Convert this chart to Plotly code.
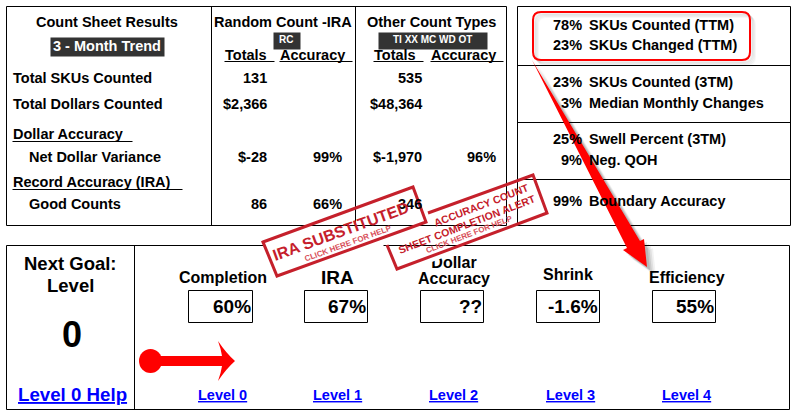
"""Count sheet results panel redrawn with Plotly shapes and annotations"""
import plotly.graph_objects as go

FONT = "Liberation Sans"
BLACK = "#000000"
RED = "#ff0000"
STAMP = "#c5202b"
STAMP_SOFT = "#d8505a"
LINK = "#0000ff"

# values
row_labels = ["Total SKUs Counted", "Total Dollars Counted", "Net Dollar Variance", "Good Counts"]
section_labels = ["Dollar Accuracy", "Record Accuracy (IRA)"]
random_totals = ["131", "$2,366", "$-28", "86"]
random_accuracy = ["", "", "99%", "66%"]
other_totals = ["535", "$48,364", "$-1,970", "346"]
other_accuracy = ["", "", "96%", ""]
side_values = ["78%", "23%", "23%", "3%", "25%", "9%", "99%"]
side_labels = ["SKUs Counted (TTM)", "SKUs Changed (TTM)", "SKUs Counted (3TM)",
               "Median Monthly Changes", "Swell Percent (3TM)", "Neg. QOH", "Boundary Accuracy"]
goal_names = ["Completion", "IRA", "Dollar<br>Accuracy", "Shrink", "Efficiency"]
goal_values = ["60%", "67%", "??", "-1.6%", "55%"]
level_links = ["Level 0", "Level 1", "Level 2", "Level 3", "Level 4"]

annotations = []
shapes = []


def text(x, y, s, size=14.5, color=BLACK, bold=True, anchor="center", angle=0):
    if bold:
        s = f"<b>{s}</b>"
    annotations.append(dict(x=x, y=y, text=s, showarrow=False, xanchor=anchor, yanchor="middle",
                            textangle=angle, borderpad=0, align="center",
                            font=dict(family=FONT, size=size, color=color)))


def line(x0, y0, x1, y1, color=BLACK, width=1):
    # half pixel offset keeps the rules crisp
    shapes.append(dict(type="line", x0=x0 + .5, y0=y0 + .5, x1=x1 + .5, y1=y1 + .5,
                       line=dict(color=color, width=width)))


def box(x0, y0, x1, y1, fill="rgba(0,0,0,0)", color=BLACK, width=1):
    shapes.append(dict(type="rect", x0=x0 + .5, y0=y0 + .5, x1=x1 + .5, y1=y1 + .5, fillcolor=fill,
                       line=dict(color=color, width=width)))


def poly(path, fill="rgba(0,0,0,0)", color="rgba(0,0,0,0)", width=0):
    shapes.append(dict(type="path", path=path, fillcolor=fill, line=dict(color=color, width=width)))


# white backing of the stamp, has to sit under the frame lines
poly("M387,245 L533,175 L547,219 L397,275 Z", fill="white")

# frames
box(6, 6, 506, 225)
line(211, 6, 211, 225)
line(355, 6, 355, 225)
box(517, 6, 790, 225)
for y in [65, 122, 179]:
    line(517, y, 790, y)
line(6, 245, 263, 245)
line(383, 245, 789, 245)
line(6, 245, 6, 409)
line(789, 245, 789, 409)
line(6, 409, 789, 409)
line(134, 245, 134, 409)

# left table
text(107, 22, "Count Sheet Results")
box(50, 37, 164, 56, fill="#333333", color="#333333", width=0)
text(107, 46, "3 - Month Trend", color="white")
text(283, 22, "Random Count -IRA")
text(431, 22, "Other Count Types")
box(273, 32, 300, 49, fill="#333333", color="#333333", width=0)
text(286, 39, "RC", 10, color="white")
box(378, 32, 487, 49, fill="#333333", color="#333333", width=0)
text(432, 39, "TI XX MC WD OT", 10, color="white")
for x, name in [(246, "Totals"), (312, "Accuracy"), (395, "Totals"), (463, "Accuracy")]:
    text(x, 55, name)
for x0, x1 in [(224, 274), (279, 352), (373, 423), (430, 503)]:
    line(x0, 61, x1, 61)

row_y = [78, 104, 157, 204]
row_x = [12, 12, 28, 28]
for x, y, s in zip(row_x, row_y, row_labels):
    text(x, y, s, anchor="left")
for y, s, x1 in zip([134, 182], section_labels, [132, 182]):
    text(12, y, s, anchor="left")
    line(12, y + 7, x1, y + 7)
for col, x in [(random_totals, 268), (random_accuracy, 343), (other_totals, 423), (other_accuracy, 497)]:
    for y, s in zip(row_y, col):
        if s:
            text(x, y, s, anchor="right")

# right side panel
side_y = [25, 45, 82, 103, 139, 160, 201]
for y, v, s in zip(side_y, side_values, side_labels):
    text(583, y, v, anchor="right")
    text(588, y, s, anchor="left")
round_box = "M{0},{2} L{1},{2} Q{4},{2} {4},{5} L{4},{6} Q{4},{3} {1},{3} L{0},{3} Q{7},{3} {7},{6} L{7},{5} Q{7},{2} {0},{2} Z"
for off, alpha in [(5, 0.03), (4, 0.04), (3, 0.05), (2, 0.06)]:
    poly(round_box.format(541 + off, 742 + off, 12 + off, 60 + off, 750 + off, 20 + off, 52 + off, 533 + off),
         color=f"rgba(0,0,0,{alpha})", width=2)
poly(round_box.format(541, 742, 12, 60, 750, 20, 52, 533), color=RED, width=2)

# big arrow with its soft shadow
for off, alpha in [(9, 0.05), (7, 0.07), (5, 0.09), (3, 0.1)]:
    poly(f"M{532+off},{60+off} L{640+off},{241+off} L{644+off},{239+off} L{647+off},{267+off} "
         f"L{623+off},{250+off} L{627+off},{248+off} Z", fill=f"rgba(0,0,0,{alpha})")
poly("M532,60 L640,241 L644,239 L647,267 L623,250 L627,248 Z", fill=RED)

# goal panel
text(70, 263, "Next Goal:", 18.5)
text(70, 285, "Level", 18.5)
text(72, 334, "0", 36)
text(72, 394, "<u>Level 0 Help</u>", 18.7, color=LINK)

name_x = [223, 337, 454, 568, 687]
name_y = [277, 277, 0, 274, 277]
value_box = [(188, 252), (304, 367), (420, 483), (536, 599), (652, 715)]
link_x = [222, 337, 453, 570, 686]
for i in range(5):
    x0, x1 = value_box[i]
    box(x0, 290, x1, 322)
    text(x1, 306, goal_values[i], 19, anchor="right")
    text(link_x[i], 395, f"<u>{level_links[i]}</u>", color=LINK)
    if i == 2:
        continue
    text(name_x[i], name_y[i], goal_names[i], 19 if i == 1 else 16)

# small red pointer
shapes.append(dict(type="circle", x0=139, y0=349, x1=162, y1=373, fillcolor=RED, line=dict(width=0)))
poly("M150,356 L222,356 Q221,349 218,341 Q226,353 235,361 Q226,369 218,381 Q221,373 222,366 L150,366 Z", fill=RED)

# stamps
stamp1 = "M263,242 L413,187 L426,222 L277,276 Z"
stamp2 = "M428,213 L533,175 L547,213 L397,269 L387,245"
poly(stamp1, color=STAMP, width=3)
poly(stamp2, color=STAMP, width=3)
text(340, 231, "IRA SUBSTITUTED", 16, color=STAMP, angle=-20)
text(348, 243, "CLICK HERE FOR HELP", 8, color=STAMP_SOFT, angle=-20)
text(481, 205, "ACCURACY COUNT", 10.5, color=STAMP, angle=-21)
text(467, 224, "SHEET COMPLETION ALERT", 10.5, color=STAMP, angle=-21)
text(469, 234, "CLICK HERE FOR HELP", 8, color=STAMP_SOFT, angle=-21)

fig = go.Figure()
# stays a trace so the stamp's white backing cuts the top of the word
fig.add_trace(go.Scatter(x=[454, 454], y=[264, 280], mode="text", text=["<b>Dollar</b>", "<b>Accuracy</b>"],
                         textposition="middle center", hoverinfo="skip", showlegend=False,
                         textfont=dict(family=FONT, size=16, color=BLACK)))
fig.update_layout(
    width=798, height=419, margin=dict(l=0, r=0, t=0, b=0),
    paper_bgcolor="white", plot_bgcolor="white", showlegend=False,
    xaxis=dict(range=[0, 798], visible=False, fixedrange=True),
    yaxis=dict(range=[419, 0], visible=False, fixedrange=True),
    shapes=shapes, annotations=annotations)
fig.write_html("out.html", config=dict(displayModeBar=False),
               post_script="document.body.style.margin='0';")
